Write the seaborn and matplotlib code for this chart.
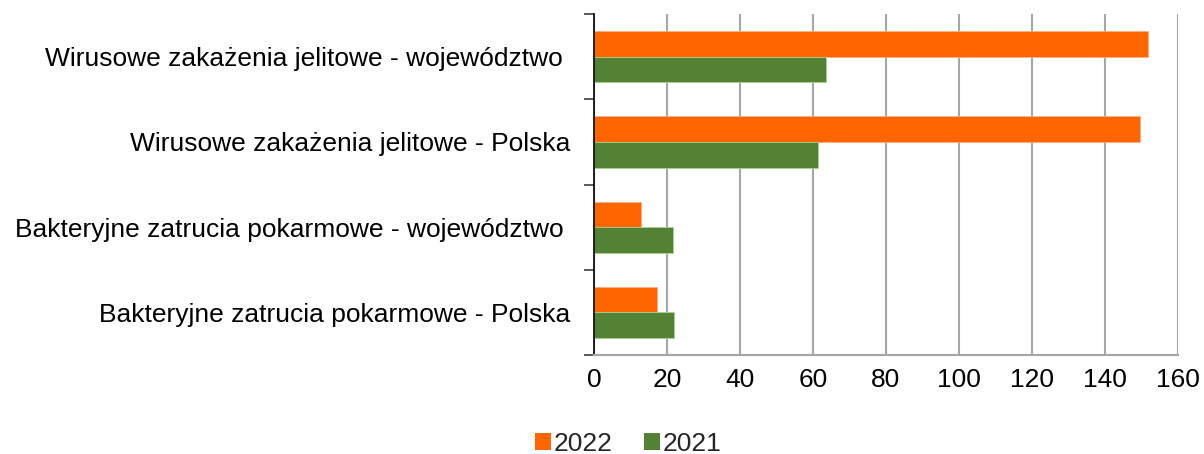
import pandas as pd
import matplotlib.pyplot as plt
import seaborn as sns
from matplotlib.ticker import FixedLocator
from matplotlib.patches import Patch

categories = [
    'Wirusowe zakażenia jelitowe - województwo ',
    'Wirusowe zakażenia jelitowe - Polska',
    'Bakteryjne zatrucia pokarmowe - województwo ',
    'Bakteryjne zatrucia pokarmowe - Polska',
]
years = ['2022', '2021']
values_2022 = [152.0, 149.6, 12.9, 17.1]
values_2021 = [63.6, 61.3, 21.7, 21.9]
x_ticks = [0, 20, 40, 60, 80, 100, 120, 140, 160]
colors = ['#FF6600', '#548235']

# long format for seaborn
df = pd.DataFrame({
    'kategoria': categories * 2,
    'rok': [years[0]] * 4 + [years[1]] * 4,
    'wartosc': values_2022 + values_2021,
})

sns.set_style('white')
plt.rcParams['font.family'] = ['Liberation Sans', 'DejaVu Sans']

fig = plt.figure(figsize=(12.04, 4.54), dpi=100)
ax = fig.add_axes([0.4935, 0.218, 0.4845, 0.751])

sns.barplot(data=df, y='kategoria', x='wartosc', hue='rok',
            order=categories, hue_order=years, palette=colors,
            width=0.6, orient='h', edgecolor='#f4b183', linewidth=0.6,
            ax=ax, saturation=1, legend=False)
for bar in ax.patches[4:8]:
    bar.set_edgecolor('#a9d18e')

ax.set_xlim(0, 160)
ax.set_ylim(3.5, -0.5)
ax.set_xticks(x_ticks)
ax.set_xlabel('')
ax.set_ylabel('')
ax.xaxis.grid(True, color='#a6a6a6', linewidth=1.5)
ax.set_axisbelow(True)

ax.tick_params(axis='x', labelsize=19, length=0, pad=9, labelcolor='black')
ax.tick_params(axis='y', which='major', labelsize=19, length=0, pad=17,
               labelcolor='black')
ax.yaxis.set_minor_locator(FixedLocator([-0.5, 0.5, 1.5, 2.5, 3.5]))
ax.tick_params(axis='y', which='minor', length=7, width=1.2,
               color='#404040', direction='out', left=True)

for side in ['top', 'right']:
    ax.spines[side].set_visible(False)
ax.spines['left'].set_color('#000000')
ax.spines['left'].set_linewidth(1.2)
ax.spines['bottom'].set_color('#a6a6a6')
ax.spines['bottom'].set_linewidth(1.5)

handles = [Patch(facecolor=c, edgecolor='none', label=y)
           for c, y in zip(colors, years)]
fig.legend(handles=handles, loc='center', bbox_to_anchor=(0.522, 0.022),
           ncol=2, frameon=False, fontsize=19, handlelength=0.6,
           handleheight=0.6, handletextpad=0.1, columnspacing=1.2,
           borderpad=0)

fig.savefig('out.png', dpi=100)
